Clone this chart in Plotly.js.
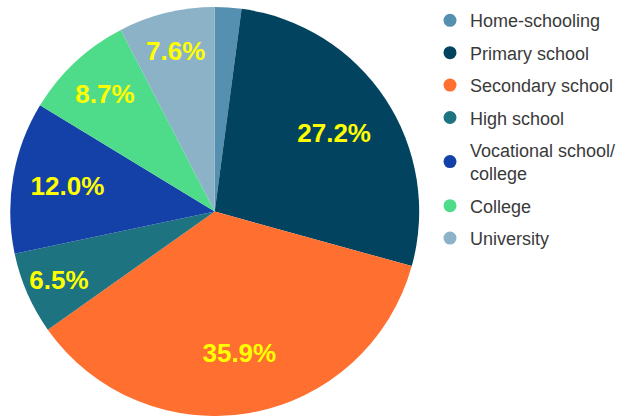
<!DOCTYPE html>
<html><head><meta charset="utf-8">
<script src="https://cdn.plot.ly/plotly-3.0.1.min.js"></script>
<style>html,body{margin:0;padding:0;background:#fff;overflow:hidden}</style>
</head><body><div id="chart" style="width:621px;height:416px"></div>
<script>
const labels = ["Home-schooling","Primary school","Secondary school","High school","Vocational school/<br>college","College","University"];
const values = [2.1, 27.2, 35.9, 6.5, 12.0, 8.7, 7.6];
const colors = ["#5690b0","#02445f","#ff6f30","#1d7380","#1441a8","#4fdc8a","#8bb2c6"];
const sliceText = ["", "27.2%", "35.9%", "6.5%", "12.0%", "8.7%", "7.6%"];

const pieDomain = {x: [0.005, 0.699], y: [0, 0.983]};
const traces = [{
  type: "pie",
  labels: labels,
  values: values,
  textinfo: "none",
  sort: false,
  direction: "clockwise",
  rotation: 0,
  marker: {colors: colors, line: {width: 0}},
  showlegend: false,
  domain: pieDomain,
  hoverinfo: "none"
}, {
  // transparent ring carrying the percentage labels
  type: "pie",
  labels: labels,
  values: values,
  text: sliceText,
  textinfo: "text",
  textposition: "inside",
  insidetextorientation: "horizontal",
  hole: 0.4,
  sort: false,
  direction: "clockwise",
  rotation: 0,
  marker: {colors: labels.map(() => "rgba(0,0,0,0)"), line: {width: 0}},
  textfont: {family: "Liberation Sans, Arial, sans-serif", size: 26, color: "#ffff00", weight: "bold"},
  showlegend: false,
  domain: pieDomain,
  hoverinfo: "none"
}];
labels.forEach((l, i) => {
  traces.push({
    type: "scatter", mode: "markers", x: [null], y: [null],
    name: l, legendgroup: "g" + i,
    marker: {symbol: "circle", size: 13, color: colors[i]},
    showlegend: true
  });
});

Plotly.newPlot("chart", traces, {
  width: 621, height: 416,
  margin: {l: 0, r: 0, t: 0, b: 0},
  paper_bgcolor: "#fff", plot_bgcolor: "#fff",
  xaxis: {visible: false}, yaxis: {visible: false},
  showlegend: true,
  legend: {
    x: 0.705, y: 0.995, xanchor: "left", yanchor: "top",
    font: {family: "Liberation Sans, Arial, sans-serif", size: 18, color: "#3a3a3a"},
    tracegroupgap: 6, itemwidth: 30
  }
}, {displayModeBar: false, staticPlot: true});
</script></body></html>
